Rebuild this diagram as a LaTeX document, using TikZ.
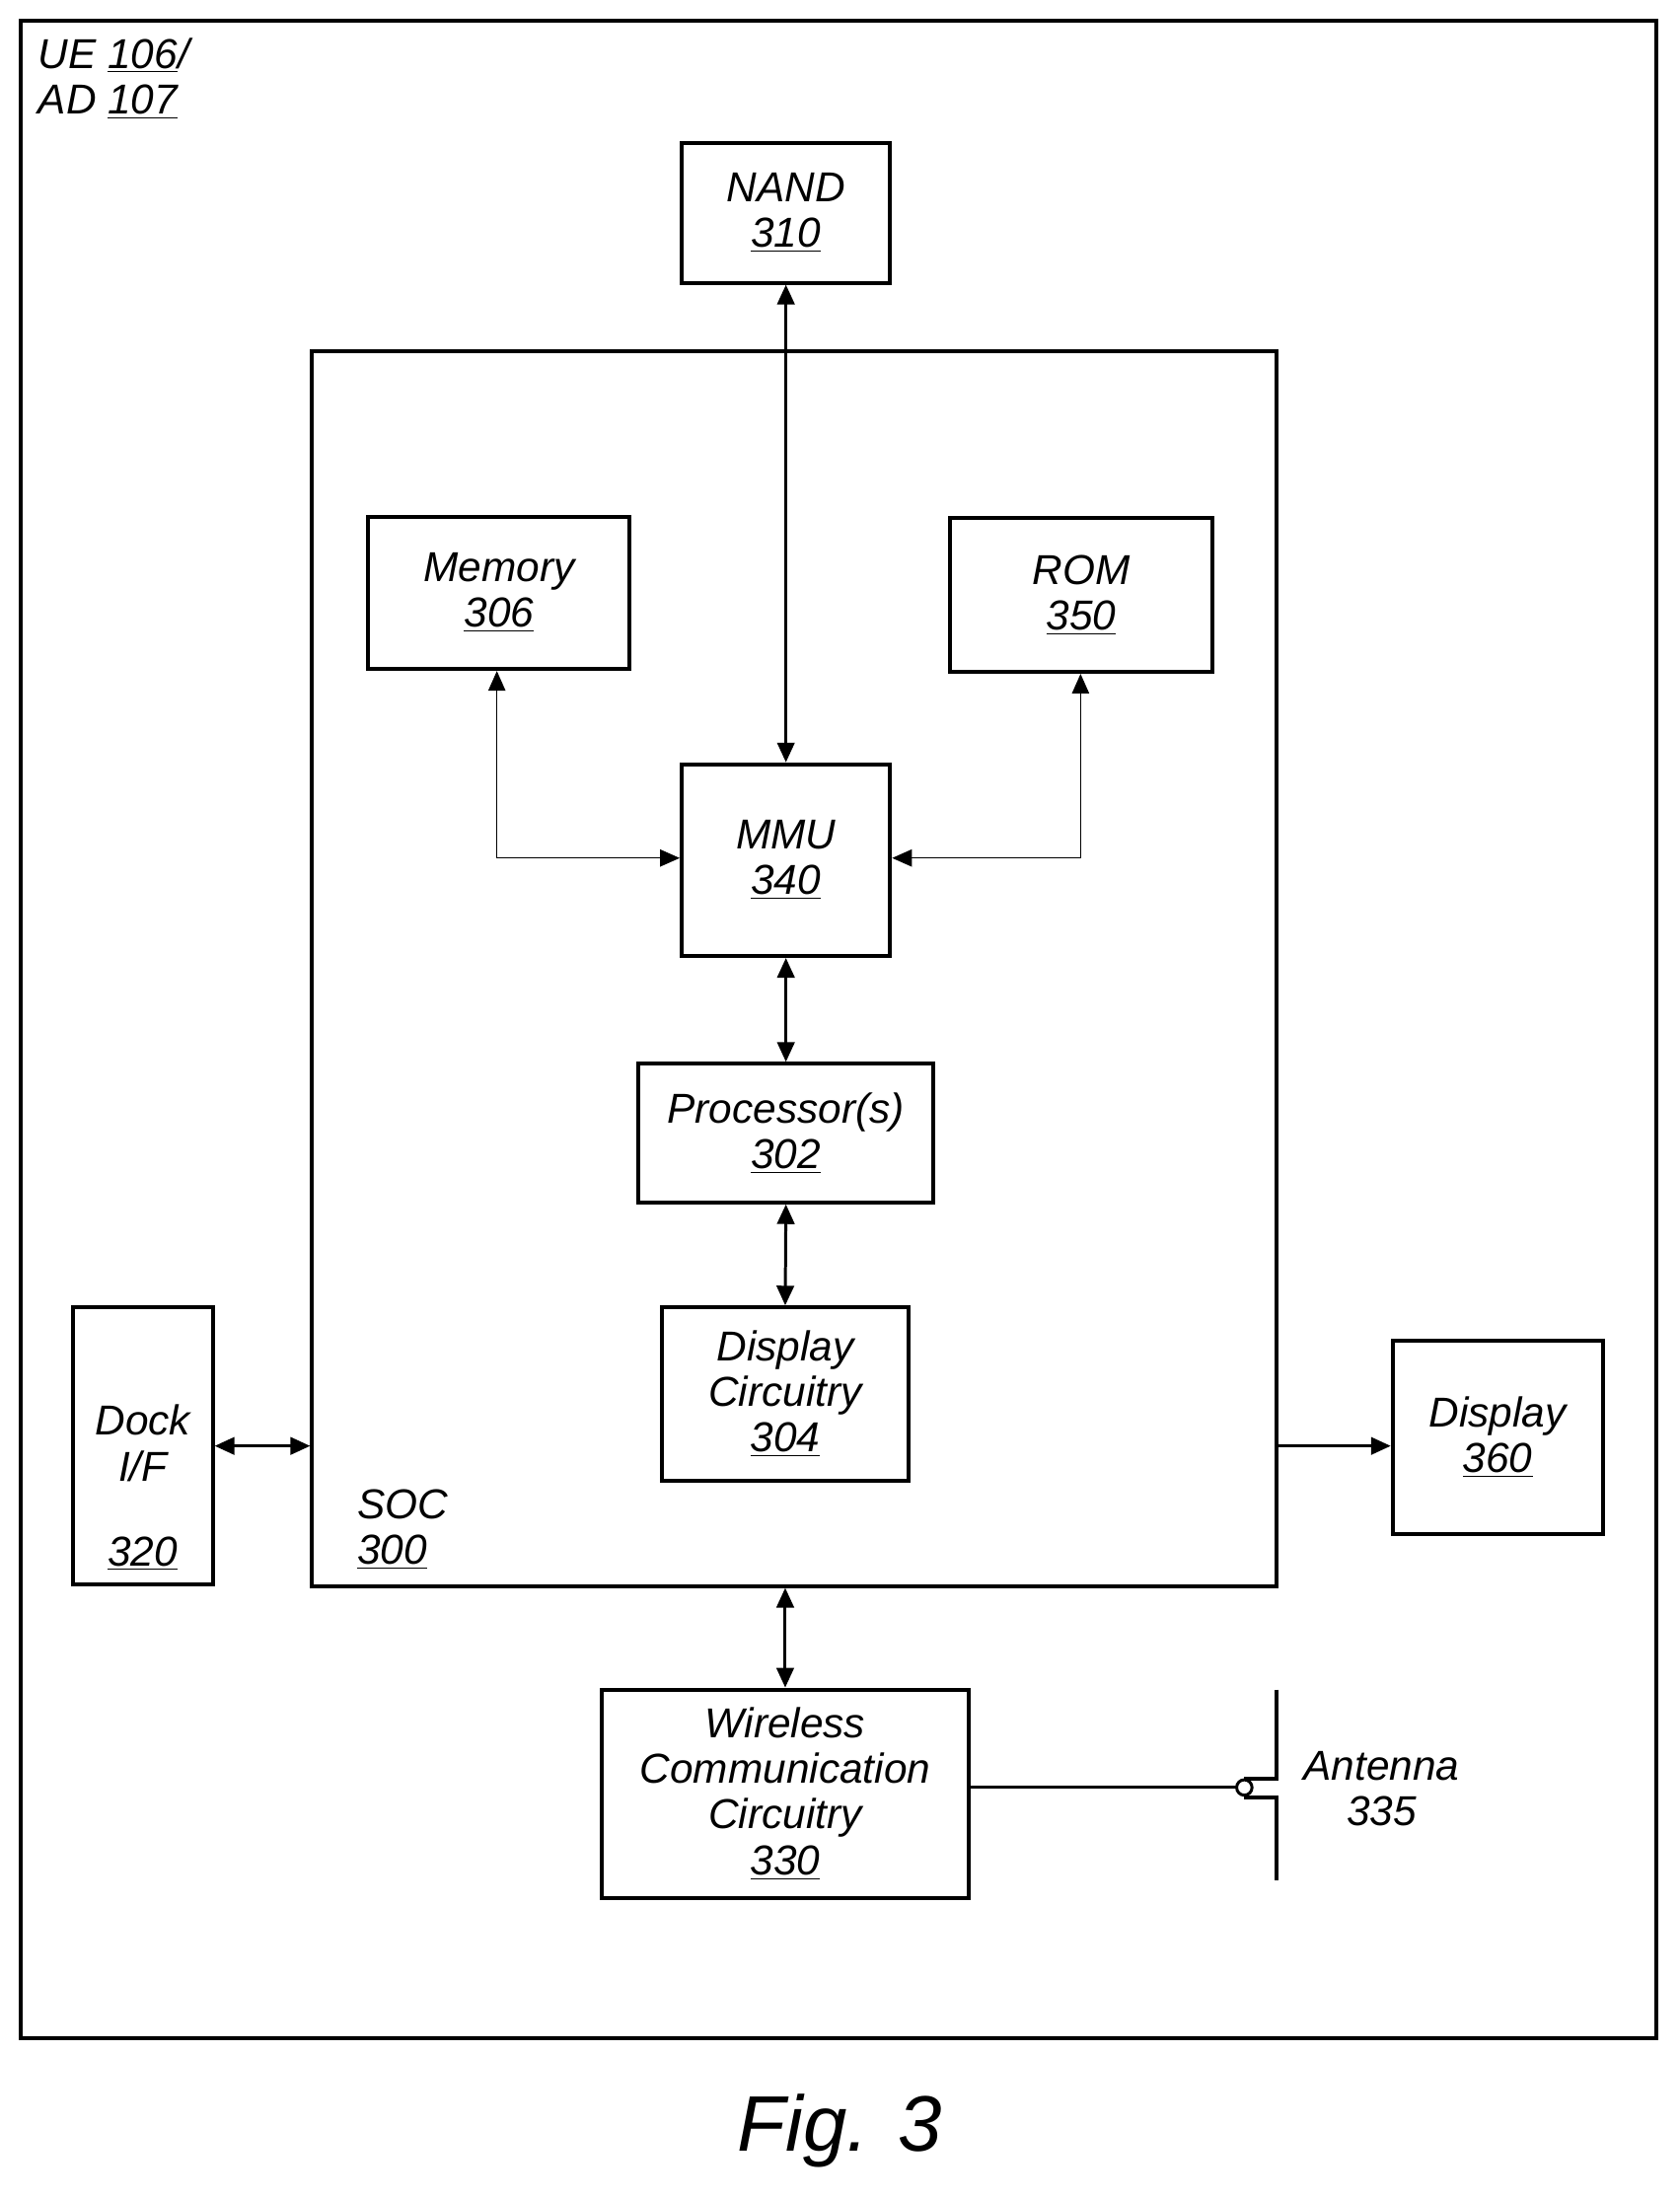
\documentclass[tikz,border=0pt]{standalone}
\usepackage{fontspec}
\setmainfont{Liberation Sans}
\usetikzlibrary{arrows.meta}
\newcommand{\bx}[6]{\node[box,minimum width={(#4-#2)*0.02cm},minimum height={(#5-#3)*0.02cm}] (#1) at ({(#2+#4)/2},{(#3+#5)/2}) {#6};}
\begin{document}
\begin{tikzpicture}[x=0.02cm,y=-0.02cm,
  every node/.style={font=\fontsize{17}{18.5}\selectfont\itshape,inner sep=0pt},
  box/.style={draw,line width=1.6pt,align=center},
  thk/.style={line width=1.2pt,{Triangle[length=8pt,width=7pt]}-{Triangle[length=8pt,width=7pt]}},
  thn/.style={line width=0.4pt,{Triangle[length=8pt,width=7pt]}-{Triangle[length=8pt,width=7pt]}}]
\useasboundingbox (0,0) rectangle (1200,1571);
\draw[line width=1.6pt] (15,15) rectangle (1183,1456);
\node[anchor=west,align=left] (ue) at (27,56) {UE \underline{106}/\\AD \underline{107}};
\bx{nand}{487}{102}{636}{202}{NAND\\\underline{310}}
\bx{soc}{223}{251}{912}{1133}{}
\node[anchor=west,align=left] (soclbl) at (255,1093) {SOC\\\underline{300}};
\bx{mem}{263}{369}{450}{478}{Memory\\\underline{306}}
\bx{rom}{679}{370}{866}{480}{ROM\\\underline{350}}
\bx{mmu}{487}{546}{636}{683}{MMU\\\underline{340}}
\bx{proc}{456}{760}{667}{859}{Processor(s)\\\underline{302}}
\bx{dc}{473}{934}{649}{1058}{Display\\Circuitry\\\underline{304}}
\bx{dock}{52}{934}{152}{1132}{}
\node (docklbl) at (102,1031) [align=center] {Dock\\I/F};
\node (docknum) at (102,1110) {\underline{320}};
\bx{disp}{995}{958}{1145}{1096}{Display\\\underline{360}}
\bx{wcc}{430}{1207}{692}{1356}{Wireless\\Communication\\Circuitry\\\underline{330}}
\node (ant) at (987,1278) [align=center] {Antenna\\335};
\node (fig) at (600,1522) {\fontsize{32}{36}\selectfont Fig. 3};
\coordinate (m1) at (355,613);
\coordinate (r1) at (772,613);
\coordinate (ac) at (889,1277);
\draw[thk] (nand.south) -- (mmu.north);
\draw[thn] (mem.south -| m1) -- (m1) -- (mmu.west |- m1);
\draw[thn] (rom.south -| r1) -- (r1) -- (mmu.east |- r1);
\draw[thk] (mmu.south) -- (proc.north);
\draw[thk] (proc.south) -- (dc.north);
\draw[thk] (dock.east |- 0,1033) -- (soc.west |- 0,1033);
\draw[line width=1.2pt,-{Triangle[length=8pt,width=7pt]}] (soc.east |- 0,1033) -- (disp.west |- 0,1033);
\draw[thk] (soc.south -| wcc.north) -- (wcc.north);
\draw[line width=1.6pt] (912,1207) -- (912,1271) -- (889,1271);
\draw[line width=1.6pt] (889,1284) -- (912,1284) -- (912,1343);
\draw[line width=1.2pt] (wcc.east |- ac) -- (883,1277);
\draw[line width=1.2pt,fill=white] (ac) circle (5.5);
\end{tikzpicture}
\end{document}
